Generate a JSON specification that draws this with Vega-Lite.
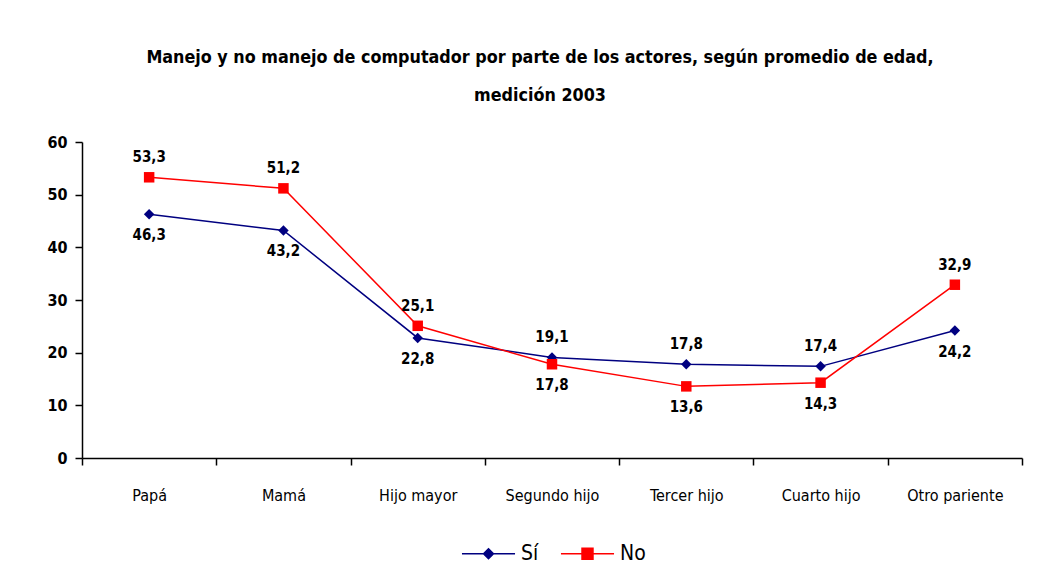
{
  "$schema": "https://vega.github.io/schema/vega-lite/v6.json",
  "width": 940,
  "height": 316,
  "autosize": {"type": "none"},
  "padding": {"left": 82, "top": 142, "right": 18, "bottom": 120},
  "background": "white",
  "title": {
    "text": ["Manejo y no manejo de computador por parte de los actores, según promedio de edad,", "medición 2003"],
    "font": "DejaVu Sans Condensed, Liberation Sans, sans-serif",
    "fontSize": 17.8,
    "fontWeight": "bold",
    "lineHeight": 38,
    "anchor": "middle",
    "dx": -12,
    "offset": 29,
    "color": "black"
  },
  "config": {
    "locale": {"number": {"decimal": ",", "thousands": ".", "grouping": [3], "currency": ["", ""]}},
    "view": {"stroke": null},
    "axis": {"grid": false, "domainColor": "black", "tickColor": "black", "domainWidth": 1.5, "tickWidth": 1.5, "labelColor": "black"}
  },
  "data": {
    "values": [
      {"actor": "Papá", "serie": "Sí", "valor": 46.3},
      {"actor": "Mamá", "serie": "Sí", "valor": 43.2},
      {"actor": "Hijo mayor", "serie": "Sí", "valor": 22.8},
      {"actor": "Segundo hijo", "serie": "Sí", "valor": 19.1},
      {"actor": "Tercer hijo", "serie": "Sí", "valor": 17.8},
      {"actor": "Cuarto hijo", "serie": "Sí", "valor": 17.4},
      {"actor": "Otro pariente", "serie": "Sí", "valor": 24.2},
      {"actor": "Papá", "serie": "No", "valor": 53.3},
      {"actor": "Mamá", "serie": "No", "valor": 51.2},
      {"actor": "Hijo mayor", "serie": "No", "valor": 25.1},
      {"actor": "Segundo hijo", "serie": "No", "valor": 17.8},
      {"actor": "Tercer hijo", "serie": "No", "valor": 13.6},
      {"actor": "Cuarto hijo", "serie": "No", "valor": 14.3},
      {"actor": "Otro pariente", "serie": "No", "valor": 32.9}
    ]
  },
  "transform": [
    {"joinaggregate": [{"op": "max", "field": "valor", "as": "maxv"}], "groupby": ["actor"]},
    {"calculate": "datum.valor == datum.maxv", "as": "arriba"}
  ],
  "encoding": {
    "x": {
      "field": "actor",
      "type": "nominal",
      "sort": ["Papá", "Mamá", "Hijo mayor", "Segundo hijo", "Tercer hijo", "Cuarto hijo", "Otro pariente"],
      "scale": {"paddingInner": 0, "paddingOuter": 0},
      "axis": {
        "title": null,
        "labelAngle": 0,
        "tickBand": "extent",
        "tickSize": 7,
        "labelPadding": 22,
        "labelFont": "DejaVu Sans Condensed, Liberation Sans, sans-serif",
        "labelFontSize": 16,
        "labelFontWeight": 500
      }
    },
    "y": {
      "field": "valor",
      "type": "quantitative",
      "scale": {"domain": [0, 60]},
      "axis": {
        "title": null,
        "values": [0, 10, 20, 30, 40, 50, 60],
        "tickSize": 7,
        "labelPadding": 8,
        "labelFont": "DejaVu Sans Condensed, Liberation Sans, sans-serif",
        "labelFontSize": 16,
        "labelFontWeight": "bold"
      }
    },
    "color": {
      "field": "serie",
      "type": "nominal",
      "scale": {"domain": ["Sí", "No"], "range": ["#000080", "#FF0000"]},
      "legend": {
        "title": null,
        "orient": "none",
        "legendX": 388,
        "legendY": 393,
        "direction": "horizontal",
        "symbolSize": 1252,
        "symbolStrokeWidth": 1.5,
        "labelOffset": 14,
        "columnPadding": 18,
        "labelFont": "DejaVu Sans Condensed, Liberation Sans, sans-serif",
        "labelFontSize": 21,
        "labelColor": "black",
        "encode": {
          "symbols": {
            "update": {
              "shape": {"signal": "datum.value === 'Sí' ? 'M-1.5,0H1.5M0,-0.28L0.28,0L0,0.28L-0.28,0Z' : 'M-1.5,0H1.5M-0.31,-0.31H0.31V0.31H-0.31Z'"},
              "fill": {"signal": "datum.value === 'Sí' ? '#000080' : '#FF0000'"},
              "stroke": {"signal": "datum.value === 'Sí' ? '#000080' : '#FF0000'"},
              "strokeWidth": {"value": 1.5},
              "opacity": {"value": 1}
            }
          }
        }
      }
    }
  },
  "layer": [
    {"mark": {"type": "line", "strokeWidth": 1.5}},
    {
      "transform": [{"filter": "datum.serie === 'Sí'"}],
      "mark": {"type": "point", "filled": true, "opacity": 1, "size": 110, "shape": "diamond"}
    },
    {
      "transform": [{"filter": "datum.serie === 'No'"}],
      "mark": {"type": "point", "filled": true, "opacity": 1, "size": 110, "shape": "square"}
    },
    {
      "transform": [{"filter": "datum.arriba"}],
      "mark": {"type": "text", "dy": -20, "font": "DejaVu Sans Condensed, Liberation Sans, sans-serif", "fontSize": 15, "fontWeight": "bold", "color": "black"},
      "encoding": {"text": {"field": "valor", "type": "quantitative", "format": ".1f"}, "color": {"value": "black"}}
    },
    {
      "transform": [{"filter": "!datum.arriba"}],
      "mark": {"type": "text", "dy": 21, "font": "DejaVu Sans Condensed, Liberation Sans, sans-serif", "fontSize": 15, "fontWeight": "bold", "color": "black"},
      "encoding": {"text": {"field": "valor", "type": "quantitative", "format": ".1f"}, "color": {"value": "black"}}
    }
  ]
}
